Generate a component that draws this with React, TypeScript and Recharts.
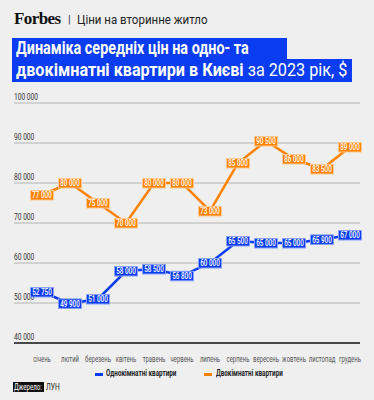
import { LineChart, Line, XAxis, YAxis, ReferenceLine, LabelList } from "recharts";

const months = ["січень", "лютий", "березень", "квітень", "травень", "червень", "липень", "серпень", "вересень", "жовтень", "листопад", "грудень"];
const oneRoom = [52750, 49900, 51000, 58000, 58500, 56800, 60000, 65500, 65000, 65000, 65900, 67000];
const twoRoom = [77000, 80000, 75000, 70000, 80000, 80000, 73000, 85000, 90500, 86000, 83500, 89000];
const yTicks = [40000, 50000, 60000, 70000, 80000, 90000, 100000];

const BLUE = "#0a3cf2";
const ORANGE = "#ff8200";
const FONT = "Roboto, 'Liberation Sans', sans-serif";

const fmt = (v: number) => v.toLocaleString("en-US").replace(/,/g, " ");

const data = months.map((m, i) => ({ month: m, one: oneRoom[i], two: twoRoom[i] }));

// narrow text: the reference uses a condensed face, so squeeze Roboto horizontally
const Narrow = ({ x, y, sx = 0.72, anchor = "start", children, ...rest }: any) => (
  <text transform={`translate(${x},${y}) scale(${sx},1)`} textAnchor={anchor} fontFamily={FONT} {...rest}>
    {children}
  </text>
);

const makeLabel = (fill: string, stroke: string) => (props: any) => {
  const { x, y, value } = props;
  const w = 23;
  return (
    <g>
      <rect x={x - w / 2} y={y - 4.5} width={w} height={9.5} fill={fill} stroke={stroke} strokeWidth={1} />
      <Narrow x={x} y={y + 3.2} sx={0.72} anchor="middle" fill="#fff" fontSize={8.8} fontWeight={500}>
        {fmt(value)}
      </Narrow>
    </g>
  );
};

const GridLabel = (props: any) => {
  const { viewBox, value } = props;
  return (
    <Narrow x={14} y={viewBox.y - 3.5} sx={0.74} fill="#333" fontSize={9}>
      {fmt(value)}
    </Narrow>
  );
};

const XTick = (props: any) => {
  const { x, y, payload } = props;
  return (
    <Narrow x={x} y={y + 11} sx={0.72} anchor="middle" fill="#555" fontSize={8.3}>
      {payload.value}
    </Narrow>
  );
};

const squeeze = (k: number): any => ({ display: "inline-block", transform: `scaleX(${k})`, transformOrigin: "left", whiteSpace: "nowrap" });

export default function App() {
  return (
    <div style={{ position: "absolute", left: 0, top: 0, width: 374, height: 400, background: "#efefef", fontFamily: FONT, overflow: "hidden" }}>
      <div style={{ position: "absolute", left: 14, top: 9, fontFamily: "'Liberation Serif', serif", fontWeight: 700, fontSize: 17, letterSpacing: -0.6, color: "#111" }}>
        Forbes
      </div>
      <div style={{ position: "absolute", left: 68, top: 13, fontSize: 11, color: "#333" }}>|</div>
      <div style={{ position: "absolute", left: 77, top: 12, fontSize: 12.5, color: "#222" }}>
        <span style={squeeze(0.92)}>Ціни на вторинне житло</span>
      </div>
      <div style={{ position: "absolute", left: 12, top: 38, width: 275, height: 21, background: BLUE }} />
      <div style={{ position: "absolute", left: 12, top: 59, width: 340, height: 23, background: BLUE }} />
      <div style={{ position: "absolute", left: 16, top: 37, fontSize: 18, lineHeight: "22px", color: "#fff", fontWeight: 700 }}>
        <span style={squeeze(0.8)}>Динаміка середніх цін на одно- та</span>
      </div>
      <div style={{ position: "absolute", left: 16, top: 59, fontSize: 18, lineHeight: "22px", color: "#fff" }}>
        <span style={squeeze(0.9)}>
          <b>двокімнатні квартири в Києві</b> за 2023 рік, $
        </span>
      </div>
      <div style={{ position: "absolute", left: 0, top: 90 }}>
        <LineChart width={374} height={275} data={data} margin={{ top: 13, right: 14, bottom: 0, left: 14 }}>
          {yTicks.slice(1).map((t) => (
            <ReferenceLine key={t} y={t} stroke="#b4b4b4" strokeWidth={1} label={<GridLabel value={t} />} />
          ))}
          <ReferenceLine y={yTicks[0]} stroke="none" label={<GridLabel value={yTicks[0]} />} />
          <XAxis
            dataKey="month"
            padding={{ left: 28, right: 10 }}
            axisLine={{ stroke: "#111", strokeWidth: 1.5 }}
            tickLine={false}
            interval={0}
            height={22}
            tick={<XTick />}
          />
          <YAxis hide domain={[40000, 100000]} ticks={yTicks} />
          <Line dataKey="two" stroke={ORANGE} strokeWidth={2.5} dot={false} isAnimationActive={false}>
            <LabelList dataKey="two" content={makeLabel(ORANGE, "#ffc890")} />
          </Line>
          <Line dataKey="one" stroke={BLUE} strokeWidth={2.5} dot={false} isAnimationActive={false}>
            <LabelList dataKey="one" content={makeLabel(BLUE, "#8aa0ff")} />
          </Line>
        </LineChart>
      </div>
      <div style={{ position: "absolute", top: 373, left: 95, width: 8, height: 2.5, background: BLUE }} />
      <div style={{ position: "absolute", top: 368, left: 106, fontSize: 8.8, fontWeight: 700, color: "#222", lineHeight: "11px" }}>
        <span style={squeeze(0.72)}>Однокімнатні квартири</span>
      </div>
      <div style={{ position: "absolute", top: 373, left: 204, width: 8, height: 2.5, background: ORANGE }} />
      <div style={{ position: "absolute", top: 368, left: 216, fontSize: 8.8, fontWeight: 700, color: "#222", lineHeight: "11px" }}>
        <span style={squeeze(0.72)}>Двокімнатні квартири</span>
      </div>
      <div style={{ position: "absolute", top: 382, left: 13, width: 31, height: 10, background: "#111" }} />
      <div style={{ position: "absolute", top: 381, left: 14, fontSize: 9, color: "#fff", lineHeight: "12px" }}>
        <span style={squeeze(0.68)}>Джерело:</span>
      </div>
      <div style={{ position: "absolute", top: 381, left: 46, fontSize: 9, color: "#222", lineHeight: "12px" }}>
        <span style={squeeze(0.74)}>ЛУН</span>
      </div>
    </div>
  );
}
